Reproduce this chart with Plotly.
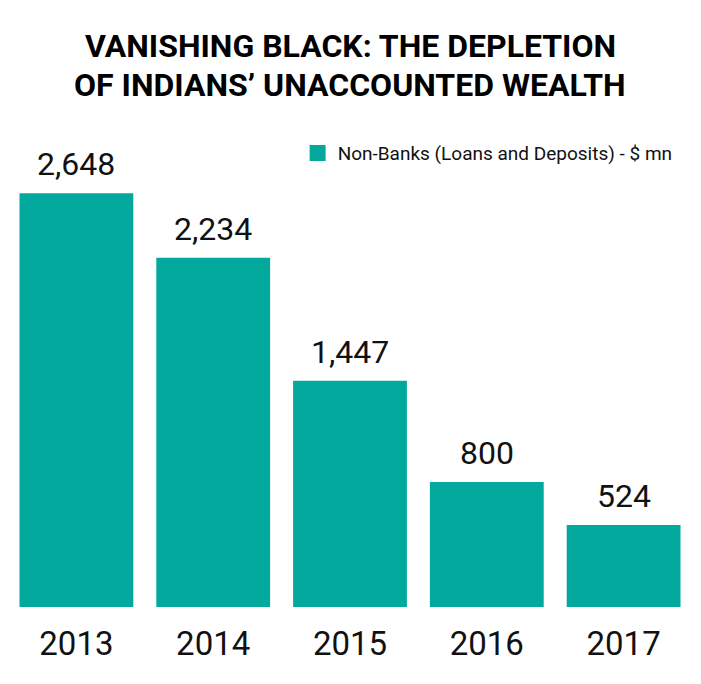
import plotly.graph_objects as go

years = ["2013", "2014", "2015", "2016", "2017"]
values = [2648, 2234, 1447, 800, 524]
value_labels = ["2,648", "2,234", "1,447", "800", "524"]
series_name = "Non-Banks (Loans and Deposits) - $ mn"
title_lines = ["VANISHING BLACK: THE DEPLETION", "OF INDIANS’ UNACCOUNTED WEALTH"]

TEAL = "#04a99d"
FONT = "Roboto, Liberation Sans, sans-serif"

fig = go.Figure()
fig.add_trace(go.Bar(
    x=years, y=values, marker=dict(color=TEAL, line=dict(width=0)),
    showlegend=False, name=series_name, hoverinfo="x+y",
))
fig.add_trace(go.Scatter(
    x=[years[0]], y=[None], mode="markers", name=series_name,
    marker=dict(symbol="square", size=22, color=TEAL),
))

annotations = []
for i, line in enumerate(title_lines):
    annotations.append(dict(
        text="<b>" + line + "</b>", xref="paper", yref="paper",
        x=0.5, y=[1.152, 1.072][i], xanchor="center", yanchor="middle",
        showarrow=False, font=dict(family=FONT, size=32, color="#000000"),
    ))
for idx, (v, lab) in enumerate(zip(values, value_labels)):
    annotations.append(dict(
        text=lab, x=idx, y=v, xref="x", yref="y",
        xanchor="center", yanchor="bottom", yshift=8,
        showarrow=False, font=dict(family=FONT, size=32, color="#111111"),
    ))

fig.update_layout(
    width=701, height=684,
    margin=dict(l=8, r=9, t=120, b=77),
    paper_bgcolor="white", plot_bgcolor="white",
    bargap=0.168,
    annotations=annotations,
    legend=dict(x=0.979, y=0.932, xanchor="right", yanchor="middle",
                font=dict(family=FONT, size=19, color="#111111"),
                bgcolor="rgba(0,0,0,0)", itemwidth=30),
    xaxis=dict(type="category", categoryorder="array", categoryarray=years,
               range=[-0.5, len(years) - 0.5],
               showgrid=False, showline=False, zeroline=False, ticks="",
               tickfont=dict(family=FONT, size=33, color="#111111"),
               ticklabelstandoff=14),
    yaxis=dict(range=[0, 3116], visible=False, showgrid=False),
)

fig.write_html("out.html")
